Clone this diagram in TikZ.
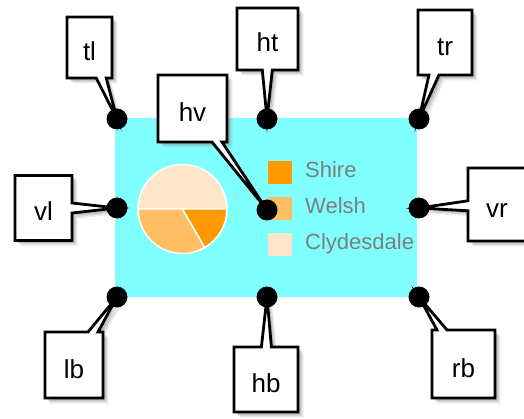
\documentclass[tikz,border=0pt]{standalone}
\usepackage{fontspec}
\setmainfont{Liberation Sans}
\usetikzlibrary{shapes.callouts,shadows}
\definecolor{bgcyan}{RGB}{128,255,255}
\definecolor{shire}{RGB}{255,153,0}
\definecolor{welsh}{RGB}{255,190,100}
\definecolor{clyde}{RGB}{255,230,200}
\definecolor{legtext}{RGB}{125,125,125}
\tikzset{
  box/.style={rectangle callout, draw=black, fill=white, line width=2.8pt,
    callout pointer width=10pt, inner sep=0pt, text height=26pt, text depth=0pt,
    font=\fontsize{26}{26}\selectfont,
    drop shadow={shadow xshift=5.5pt, shadow yshift=-5.5pt, opacity=0.15},
    drop shadow={shadow xshift=4pt, shadow yshift=-4pt, opacity=0.22},
    drop shadow={shadow xshift=2.5pt, shadow yshift=-2.5pt, opacity=0.3}},
  dot/.style={circle, fill=black, minimum size=21pt, inner sep=0pt},
  legsq/.style={rectangle, minimum width=24pt, minimum height=23pt, inner sep=0pt},
  legtxt/.style={anchor=base west, text=legtext, inner sep=0pt, font=\fontsize{22}{22}\selectfont},
  slice/.style={draw=white, line width=1.5pt}
}
\begin{document}
\begin{tikzpicture}[x=1pt,y=-1pt]
\useasboundingbox (0,0) rectangle (524,419);
% background panel
\fill[bgcyan] (115,118) rectangle (417,297);
% pie chart
\coordinate (pc) at (182.5,209);
\fill[clyde, slice] (pc) -- ++(180:44.5) arc[start angle=180, end angle=360, radius=44.5] -- cycle;
\fill[welsh, slice] (pc) -- ++(60:44.5) arc[start angle=60, end angle=180, radius=44.5] -- cycle;
\fill[shire, slice] (pc) -- ++(0:44.5) arc[start angle=0, end angle=60, radius=44.5] -- cycle;
% legend
\node[legsq, fill=shire] (sqshire) at (280,172.5) {};
\node[legsq, fill=welsh] (sqwelsh) at (280,208.5) {};
\node[legsq, fill=clyde] (sqclyde) at (280,244.5) {};
\node[legtxt] (tshire) at (305,178) {Shire};
\node[legtxt] (twelsh) at (305,214) {Welsh};
\node[legtxt] (tclyde) at (305,250) {Clydesdale};
% anchor points
\coordinate (ptl) at (117,119);
\coordinate (pht) at (267,119);
\coordinate (ptr) at (419,119);
\coordinate (pvl) at (117,208);
\coordinate (phv) at (267,210);
\coordinate (pvr) at (419,208);
\coordinate (plb) at (117,297);
\coordinate (phb) at (267,297);
\coordinate (prb) at (419,297);
% callouts
\node[box, minimum width=45pt, minimum height=61pt, callout absolute pointer={(ptl)}] (btl) at (89.5,47.5) {tl};
\node[box, minimum width=61pt, minimum height=62pt, callout absolute pointer={(pht)}] (bht) at (267.5,39) {ht};
\node[box, minimum width=54pt, minimum height=65pt, callout absolute pointer={(ptr)}] (btr) at (445,42.5) {tr};
\node[box, minimum width=57pt, minimum height=65pt, callout absolute pointer={(pvl)}] (bvl) at (43.5,208) {vl};
\node[box, minimum width=69pt, minimum height=67pt, callout absolute pointer={(phv)}] (bhv) at (192.5,108.5) {hv};
\node[box, minimum width=58pt, minimum height=73pt, callout absolute pointer={(pvr)}] (bvr) at (497,204.5) {vr};
\node[box, minimum width=58pt, minimum height=66pt, callout absolute pointer={(plb)}] (blb) at (74,365) {lb};
\node[box, minimum width=64pt, minimum height=65pt, callout absolute pointer={(phb)}] (bhb) at (266,379.5) {hb};
\node[box, minimum width=63pt, minimum height=68pt, callout absolute pointer={(prb)}] (brb) at (463.5,364) {rb};
% dots
\foreach \p in {tl,ht,tr,vl,hv,vr,lb,hb,rb}
  \node[dot] (d\p) at (p\p) {};
\end{tikzpicture}
\end{document}
